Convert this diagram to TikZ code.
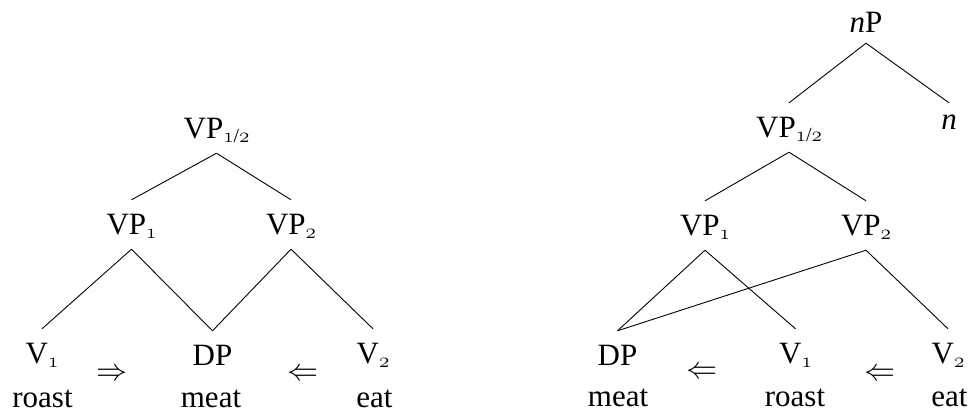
\RequirePackage{fix-cm}
\documentclass[tikz,border=0pt]{standalone}
\usepackage{fontspec}
\setmainfont{Liberation Serif}
\newcommand\osn[1]{{\fontsize{21}{21}\usefont{OML}{cmm}{m}{it}#1}}
\newcommand\subs[1]{\raisebox{-4pt}{\osn{#1}}}
\newcommand\subhalf{\raisebox{-4pt}{\osn{1}{\fontsize{20}{20}\selectfont/}\osn{2}}}
\begin{document}
\begin{tikzpicture}[x=1pt,y=-1pt,
  lab/.style={anchor=base,inner sep=0pt,text height=34pt,text depth=15pt,font=\fontsize{31}{36}\selectfont},
  word/.style={anchor=base,inner sep=0pt,font=\fontsize{31}{36}\selectfont},
  edge/.style={line width=0.9pt}]
\useasboundingbox (0,0) rectangle (969,416);
% ---------- left tree ----------
\node[lab] (L12) at (216.5,138) {VP\subhalf};
\node[lab] (L1) at (131.5,234) {VP\subs{1}};
\node[lab] (L2) at (291,234) {VP\subs{2}};
\node[lab] (Lv1) at (42,363) {V\subs{1}};
\node[lab] (Ldp) at (212.5,365) {DP};
\node[lab] (Lv2) at (373,363) {V\subs{2}};
\node[word] (Lar1) at (111.5,380) {$\Rightarrow$};
\node[word] (Lar2) at (302.5,380) {$\Leftarrow$};
\node[word] (Lw1) at (42.5,407) {roast};
\node[word] (Lw2) at (211,407) {meat};
\node[word] (Lw3) at (374.5,407) {eat};
\draw[edge] (L12.south) -- (L1.north);
\draw[edge] (L12.south) -- (L2.north);
\draw[edge] (L1.south) -- (Lv1.north);
\draw[edge] (L1.south) -- (Ldp.north);
\draw[edge] (L2.south) -- (Ldp.north);
\draw[edge] (L2.south) -- (Lv2.north);
% ---------- right tree ----------
\node[lab,text depth=11pt] (RnP) at (866,32) {\textit{n}P};
\node[lab] (R12) at (789,137) {VP\subhalf};
\node[lab,text height=26pt] (Rn) at (949,129) {\textit{n}};
\node[lab] (R1) at (705,235) {VP\subs{1}};
\node[lab] (R2) at (866,235) {VP\subs{2}};
\node[lab] (Rdp) at (617.5,365) {DP};
\node[lab] (Rv1) at (795.5,363) {V\subs{1}};
\node[lab] (Rv2) at (948,363) {V\subs{2}};
\node[word] (Rar1) at (701.5,378) {$\Leftarrow$};
\node[word] (Rar2) at (880,380) {$\Leftarrow$};
\node[word] (Rw1) at (618,406) {meat};
\node[word] (Rw2) at (795,406) {roast};
\node[word] (Rw3) at (949.5,406) {eat};
\draw[edge] (RnP.south) -- (R12.north);
\draw[edge] (RnP.south) -- (Rn.north);
\draw[edge] (R12.south) -- (R1.north);
\draw[edge] (R12.south) -- (R2.north);
\draw[edge] (R1.south) -- (Rdp.north);
\draw[edge] (R1.south) -- (Rv1.north);
\draw[edge] (R2.south) -- (Rdp.north);
\draw[edge] (R2.south) -- (Rv2.north);
\end{tikzpicture}
\end{document}
